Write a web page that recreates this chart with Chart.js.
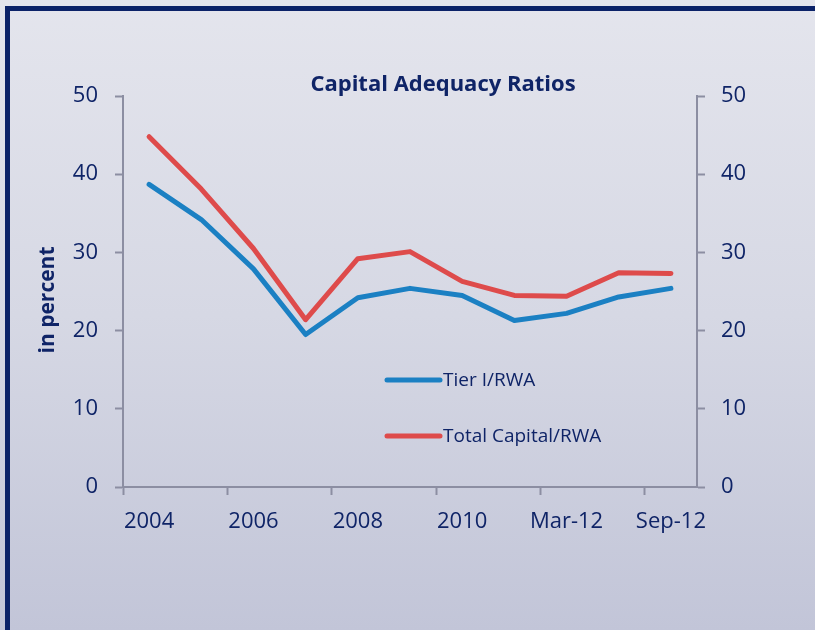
<!DOCTYPE html>
<html>
<head>
<meta charset="utf-8">
<script src="https://cdn.jsdelivr.net/npm/chart.js@4"></script>
<style>
  html, body { margin: 0; padding: 0; }
  body {
    width: 815px; height: 630px; overflow: hidden; position: relative;
    background: linear-gradient(to bottom, #e4e5ed 0%, #d6d8e4 50%, #c2c5d8 100%);
  }
  #frame {
    position: absolute; left: 5px; top: 6px; width: 900px; height: 700px;
    border-left: 5px solid #0b2268; border-top: 5px solid #0b2268;
  }
  #wrap { position: absolute; left: 0; top: 0; width: 815px; height: 630px; }
</style>
</head>
<body>
<div id="frame"></div>
<div id="wrap"><canvas id="myChart" width="815" height="630"></canvas></div>
<script>
let periods = ["2004", "2005", "2006", "2007", "2008", "2009", "2010", "2011", "Mar-12", "Jun-12", "Sep-12"];
let tier1 = [38.7, 34.2, 27.9, 19.5, 24.2, 25.4, 24.5, 21.3, 22.2, 24.3, 25.4];
let totalCap = [44.8, 38.1, 30.5, 21.4, 29.2, 30.1, 26.3, 24.5, 24.4, 27.4, 27.3];
let yTicks = [0, 10, 20, 30, 40, 50];

const navy = "#0f2467";
const axisGray = "#8c8ea2";
const font = "'Open Sans', 'Noto Sans', sans-serif";

// title + legend drawn inside the plot, like the original
const overlay = {
  id: "overlay",
  afterDraw(chart) {
    const c = chart.ctx;
    c.save();
    c.fillStyle = navy;
    c.font = "bold 22px " + font;
    c.textAlign = "center";
    c.textBaseline = "middle";
    c.fillText("Capital Adequacy Ratios", 443, 85);

    // y title, a bit below the axis middle as in the source
    c.save();
    c.translate(48, 300);
    c.rotate(-Math.PI / 2);
    c.font = "bold 21px " + font;
    c.fillText("in percent", 0, 0);
    c.restore();

    c.font = "19px " + font;
    c.textAlign = "left";
    chart.data.datasets.forEach((ds, i) => {
      let y = 380 + i * 56;
      c.strokeStyle = ds.borderColor;
      c.lineWidth = 5;
      c.lineCap = "round";
      c.beginPath();
      c.moveTo(387, y);
      c.lineTo(440, y);
      c.stroke();
      c.fillText(ds.label, 443, y + 1);
    });
    c.restore();
  },
};

var ctx = document.getElementById("myChart");

var myChart = new Chart(ctx, {
  type: "line",
  data: {
    labels: periods,
    datasets: [
      {
        label: "Tier I/RWA",
        data: tier1,
        borderColor: "#1b80c3",
        backgroundColor: "#1b80c3",
        borderWidth: 5,
        pointRadius: 0,
        tension: 0,
        borderCapStyle: "round",
        borderJoinStyle: "round",
      },
      {
        label: "Total Capital/RWA",
        data: totalCap,
        borderColor: "#de4b4b",
        backgroundColor: "#de4b4b",
        borderWidth: 5,
        pointRadius: 0,
        tension: 0,
        borderCapStyle: "round",
        borderJoinStyle: "round",
      },
    ],
  },
  options: {
    responsive: false,
    animation: false,
    devicePixelRatio: 1,
    layout: { padding: { top: 96, left: 0, right: 0, bottom: 0 } },
    plugins: {
      legend: { display: false },
      tooltip: { enabled: false },
    },
    scales: {
      x: {
        offset: true,
        border: { color: axisGray, width: 2 },
        grid: {
          offset: true,
          drawOnChartArea: false,
          tickLength: 8,
          tickWidth: 2,
          tickColor: (c) => (c.index !== undefined && c.index % 2 === 0 ? axisGray : "rgba(0,0,0,0)"),
        },
        ticks: {
          autoSkip: false,
          maxRotation: 0,
          color: navy,
          padding: 14,
          font: { family: font, size: 22 },
          callback: (v, i) => (i % 2 === 0 ? periods[i] : ""),
        },
        afterFit: (s) => { s.height = 143; },
      },
      y: {
        position: "left",
        min: 0,
        max: 50,
        afterBuildTicks: (s) => { s.ticks = yTicks.map((v) => ({ value: v })); },
        border: { color: axisGray, width: 2 },
        grid: { drawOnChartArea: false, tickLength: 8, tickWidth: 2, tickColor: axisGray },
        ticks: { color: navy, padding: 17, font: { family: font, size: 22 } },
        afterFit: (s) => { s.width = 123; },
      },
      y2: {
        position: "right",
        min: 0,
        max: 50,
        afterBuildTicks: (s) => { s.ticks = yTicks.map((v) => ({ value: v })); },
        border: { color: axisGray, width: 2 },
        grid: { drawOnChartArea: false, tickLength: 8, tickWidth: 2, tickColor: axisGray },
        ticks: { color: navy, padding: 16, font: { family: font, size: 22 } },
        afterFit: (s) => { s.width = 118; },
      },
    },
  },
  plugins: [overlay],
});
</script>
</body>
</html>
